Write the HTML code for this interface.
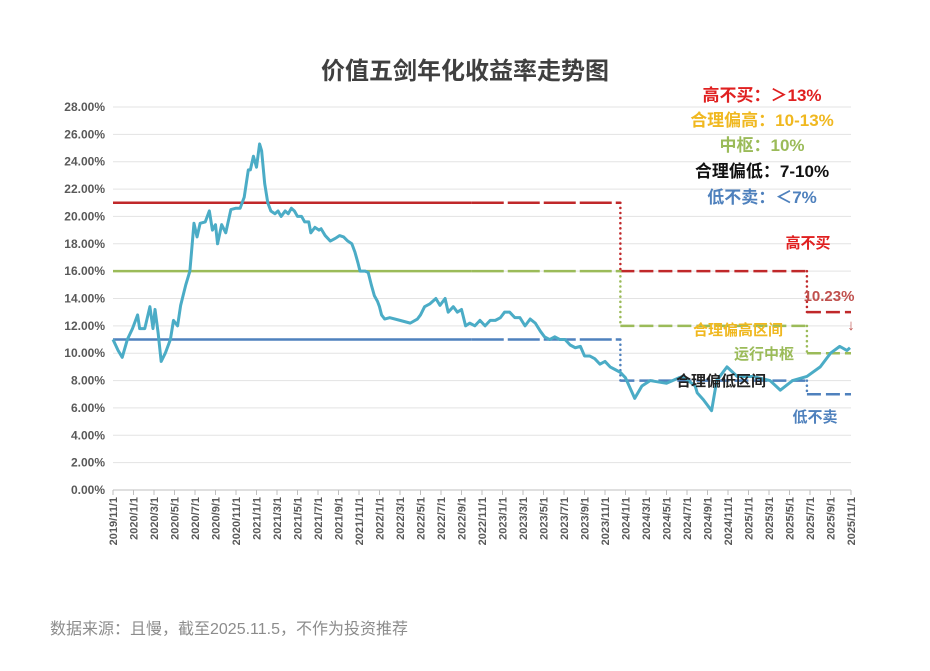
<!DOCTYPE html>
<html><head><meta charset="utf-8"><style>
body{margin:0;background:#fff;width:930px;height:666px;overflow:hidden;font-family:"Liberation Sans","Noto Sans CJK SC",sans-serif}
</style></head><body>
<svg id="chart" width="930" height="666" style="font-family:'Liberation Sans','Noto Sans CJK SC',sans-serif">
<text x="465" y="79" text-anchor="middle" font-size="24" font-weight="bold" fill="#404040">价值五剑年化收益率走势图</text>
<g id="grid"></g><g id="bands"></g><g id="series"></g><g id="axes"></g>
<g font-size="17" font-weight="bold" text-anchor="middle">
<text x="762" y="101" fill="#e02020">高不买：＞13%</text>
<text x="762" y="126" fill="#f0b820">合理偏高：10-13%</text>
<text x="762" y="151" fill="#9bbb59">中枢：10%</text>
<text x="762" y="177" fill="#111">合理偏低：7-10%</text>
<text x="762" y="203" fill="#4f81bd">低不卖：＜7%</text>
</g>
<g font-size="15" font-weight="bold">
<text x="808" y="248" text-anchor="middle" fill="#e02020">高不买</text>
<text x="829" y="301" text-anchor="middle" fill="#c0504d">10.23%</text>
<text x="851" y="330" text-anchor="middle" fill="#c0504d" font-weight="normal">↓</text>
<text x="738" y="335" text-anchor="middle" fill="#f0b820">合理偏高区间</text>
<text x="764" y="359" text-anchor="middle" fill="#9bbb59">运行中枢</text>
<text x="721" y="386" text-anchor="middle" fill="#222">合理偏低区间</text>
<text x="815" y="422" text-anchor="middle" fill="#4f81bd">低不卖</text>
</g>
<text x="50" y="634" font-size="16" fill="#8c8c8c">数据来源：且慢，截至2025.11.5，不作为投资推荐</text>
</svg>
<script>
const months=[0,0.5,0.9,1.4,1.9,2.4,2.6,3.1,3.6,3.9,4.1,4.4,4.7,5.1,5.6,5.9,6.3,6.6,7.1,7.5,7.9,8.2,8.5,9.0,9.4,9.7,10.0,10.2,10.6,11.0,11.5,12.0,12.4,12.8,13.2,13.4,13.7,14.0,14.3,14.5,14.8,15.1,15.4,15.8,16.1,16.4,16.8,17.1,17.4,17.7,18.0,18.4,18.7,19.1,19.3,19.7,20.1,20.3,20.7,21.2,21.7,22.1,22.5,22.9,23.3,23.6,23.9,24.1,24.6,24.9,25.2,25.5,25.8,26.0,26.2,26.5,27.0,28.0,29.0,29.7,30.0,30.4,30.9,31.5,31.9,32.4,32.7,33.2,33.6,34.0,34.4,34.8,35.3,35.8,36.3,36.8,37.3,37.8,38.2,38.7,39.2,39.7,40.2,40.7,41.2,41.7,42.1,42.6,43.1,43.6,44.1,44.6,45.1,45.6,46.0,46.5,47.0,47.5,48.0,48.5,49.0,49.5,50.0,50.9,51.6,52.4,54.0,55.2,55.6,56.8,57.0,57.6,58.4,58.9,59.9,60.9,62.4,64.1,65.1,66.3,67.7,69.0,70.0,70.9,71.6,71.9];
const values=[11.0,10.2,9.7,11.0,11.8,12.8,11.8,11.8,13.4,11.8,13.2,11.5,9.4,10.0,11.0,12.4,12.0,13.5,15.0,16.0,19.5,18.5,19.5,19.6,20.4,19.0,19.4,18.0,19.4,18.8,20.5,20.6,20.6,21.4,23.4,23.4,24.4,23.6,25.3,24.8,22.4,21.0,20.4,20.2,20.4,20.0,20.4,20.2,20.6,20.4,20.0,20.0,19.6,19.6,18.8,19.2,19.0,19.1,18.6,18.2,18.4,18.6,18.5,18.2,18.0,17.4,16.6,16.0,16.0,15.9,15.0,14.2,13.8,13.4,12.8,12.5,12.6,12.4,12.2,12.5,12.8,13.4,13.6,14.0,13.5,14.0,13.0,13.4,13.0,13.2,12.0,12.2,12.0,12.4,12.0,12.4,12.4,12.6,13.0,13.0,12.6,12.6,12.0,12.5,12.2,11.6,11.2,11.0,11.2,11.0,11.0,10.6,10.4,10.5,9.8,9.8,9.6,9.2,9.4,9.0,8.8,8.6,8.2,6.7,7.6,8.0,7.8,8.2,8.3,7.6,7.1,6.6,5.8,8.0,9.0,8.3,8.3,8.0,7.3,8.0,8.3,9.0,10.0,10.5,10.2,10.4];
const bandSteps=[0,49.5,67.7,72];
const highNoBuy=[21,16,13];
const centerLine=[16,12,10];
const lowNoSell=[11,8,7];
const yTicks=[0,2,4,6,8,10,12,14,16,18,20,22,24,26,28];
const xTickLabels=[];
for(let i=0;i<=36;i++){const m=10+i*2;const y=2019+Math.floor(m/12);xTickLabels.push(y+"/"+(m%12+1)+"/1");}
const X0=113,X1=851,Y0=490,Y1=107;
const xs=m=>X0+m*(X1-X0)/72, ys=v=>Y0-v*(Y0-Y1)/28;
const NS="http://www.w3.org/2000/svg";
function mk(p,t,a){const e=document.createElementNS(NS,t);for(const k in a)e.setAttribute(k,a[k]);p.appendChild(e);return e;}
const grid=document.getElementById('grid'),axes=document.getElementById('axes');
yTicks.forEach(v=>{
 const l=mk(grid,'line',{x1:X0,x2:X1,y1:ys(v),y2:ys(v),stroke:v===0?'#bfbfbf':'#e3e3e3','stroke-width':1});
 
 
 const t=mk(axes,'text',{x:105,y:ys(v)+4,'text-anchor':'end','font-size':12,'font-weight':'bold',fill:'#595959'});
 t.textContent=v.toFixed(2)+'%';
 
 
});
xTickLabels.forEach((s,i)=>{
 const x=xs(i*2);
 const tk=mk(axes,'line',{x1:x,x2:x,y1:Y0,y2:Y0+5,stroke:'#bfbfbf'});
 
 
 const t=mk(axes,'text',{x:0,y:0,transform:`translate(${x+4},497) rotate(-90)`,'text-anchor':'end','font-size':11,'font-weight':'bold',fill:'#595959'});
 t.textContent=s;
 
 
});
const bands=document.getElementById('bands');
const solidEnd=35;
[[highNoBuy,'#c0282a','band-high-no-buy'],[centerLine,'#9bbb59','band-center'],[lowNoSell,'#4f81bd','band-low-no-sell']].forEach(([arr,c,n])=>{
 for(let i=0;i<arr.length;i++){
  if(i===0){
   const s=mk(bands,'line',{x1:xs(bandSteps[0]),x2:xs(solidEnd),y1:ys(arr[0]),y2:ys(arr[0]),stroke:c,'stroke-width':2.5});
   
   
   const d2=mk(bands,'line',{x1:xs(solidEnd),x2:xs(bandSteps[1]),y1:ys(arr[0]),y2:ys(arr[0]),stroke:c,'stroke-width':2.5,'stroke-dasharray':'32 4'});
   
   
  } else {
   const a=mk(bands,'line',{x1:xs(bandSteps[i]),x2:xs(bandSteps[i+1]),y1:ys(arr[i]),y2:ys(arr[i]),stroke:c,'stroke-width':2.5,'stroke-dasharray':'14 5'});
   
   
   const d=mk(bands,'line',{x1:xs(bandSteps[i]),x2:xs(bandSteps[i]),y1:ys(arr[i-1]),y2:ys(arr[i]),stroke:c,'stroke-width':2.5,'stroke-dasharray':'0.1 5','stroke-linecap':'round'});
   
   
  }
 }
});
const p=mk(document.getElementById('series'),'polyline',{points:months.map((m,i)=>xs(m)+','+ys(values[i])).join(' '),fill:'none',stroke:'#4bacc6','stroke-width':3,'stroke-linejoin':'round'});


</script>
</body></html>
